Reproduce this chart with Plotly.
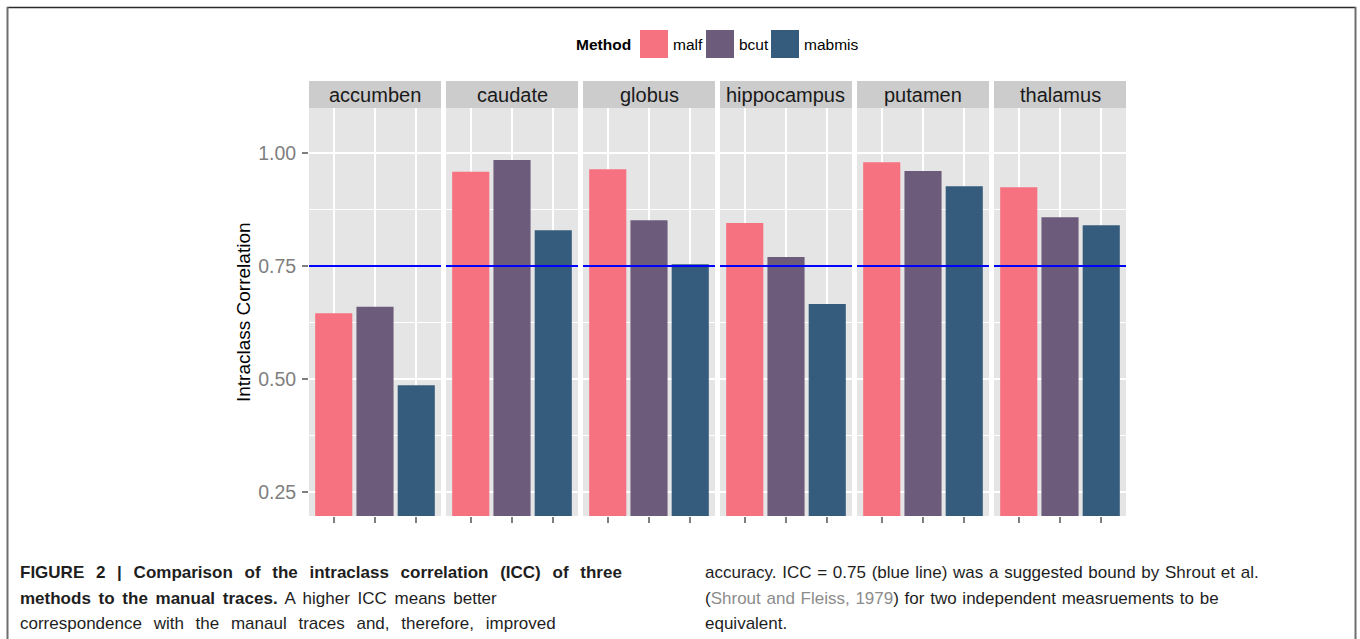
import plotly.graph_objects as go

# ICC of each automatic segmentation method against the manual traces
REGIONS = ["accumben", "caudate", "globus", "hippocampus", "putamen", "thalamus"]
METHODS = ["malf", "bcut", "mabmis"]
MALF = [0.646, 0.958, 0.964, 0.845, 0.979, 0.924]
BCUT = [0.660, 0.984, 0.851, 0.770, 0.960, 0.858]
MABMIS = [0.487, 0.829, 0.754, 0.666, 0.926, 0.840]
ICC_BOUND = 0.75

Y_TICKS = [0.25, 0.50, 0.75, 1.00]
Y_TICK_LABELS = ["0.25", "0.50", "0.75", "1.00"]
Y_MINOR = [0.375, 0.625, 0.875]
Y_RANGE = [0.198, 1.099]

COLORS = ["#F67280", "#6C5B7B", "#355C7D"]

W, H = 1360, 639
FONT = "Liberation Sans, Arial, Helvetica, sans-serif"
TICK_GREY = "#7F7F7F"

# panel geometry in pixels
PANEL_LEFT = [309, 446, 583, 720, 857, 994]
PANEL_W = 132
PANEL_TOP, PANEL_BOTTOM = 108, 516
STRIP_TOP = 81


def px(x):
    return x / W


def py(y):
    return 1 - y / H


fig = go.Figure()
series = [MALF, BCUT, MABMIS]

for i, region in enumerate(REGIONS):
    xa = "x" if i == 0 else f"x{i + 1}"
    vals = [s[i] for s in series]
    fig.add_trace(go.Bar(
        x=METHODS, y=vals, width=0.9,
        marker=dict(color=COLORS, line=dict(width=0)),
        xaxis=xa, yaxis="y", showlegend=False,
        name=region,
        hovertemplate=region + "<br>%{x}: %{y:.3f}<extra></extra>",
    ))

    axis_key = "xaxis" if i == 0 else f"xaxis{i + 1}"
    fig.update_layout({axis_key: dict(
        domain=[px(PANEL_LEFT[i]), px(PANEL_LEFT[i] + PANEL_W)],
        anchor="y", type="category", range=[-0.6, 2.6],
        showticklabels=False, ticks="outside", ticklen=6, tickwidth=1.5,
        tickcolor=TICK_GREY, showgrid=True, gridcolor="white", gridwidth=1.8,
        zeroline=False, showline=False, fixedrange=True,
    )})

    # reference bound across the panel
    fig.add_shape(type="line", xref=f"{xa} domain", yref="y",
                  x0=0, x1=1, y0=ICC_BOUND, y1=ICC_BOUND,
                  line=dict(color="#0000FF", width=2), layer="above")

    # facet strip
    fig.add_shape(type="rect", xref="paper", yref="paper",
                  x0=px(PANEL_LEFT[i]), x1=px(PANEL_LEFT[i] + PANEL_W),
                  y0=py(PANEL_TOP), y1=py(STRIP_TOP),
                  fillcolor="#CCCCCC", line=dict(width=0), layer="below")
    fig.add_annotation(xref="paper", yref="paper",
                       x=px(PANEL_LEFT[i] + PANEL_W / 2), y=py((PANEL_TOP + STRIP_TOP) / 2),
                       text=region, showarrow=False, xanchor="center", yanchor="middle",
                       font=dict(family=FONT, size=20, color="#1A1A1A"))

fig.update_layout(yaxis=dict(
    domain=[py(PANEL_BOTTOM), py(PANEL_TOP)], anchor="x",
    range=Y_RANGE, tickmode="array", tickvals=Y_TICKS, ticktext=Y_TICK_LABELS,
    ticks="outside", ticklen=6, tickwidth=1.5, tickcolor=TICK_GREY,
    tickfont=dict(family=FONT, size=19.5, color=TICK_GREY), ticklabelstandoff=2,
    showgrid=True, gridcolor="white", gridwidth=1.8,
    minor=dict(tickmode="array", tickvals=Y_MINOR, showgrid=True,
               gridcolor="white", gridwidth=0.9, ticks=""),
    zeroline=False, showline=False, fixedrange=True,
))

# y-axis title
fig.add_annotation(xref="paper", yref="paper", x=px(244), y=py((PANEL_TOP + PANEL_BOTTOM) / 2),
                   text="Intraclass Correlation", textangle=-90, showarrow=False,
                   xanchor="center", yanchor="middle",
                   font=dict(family=FONT, size=19, color="#000000"))

# legend: title, colour keys and labels
LEG_Y0, LEG_Y1 = 30, 58
LEG_BOX_LEFT = [640, 706, 771]
fig.add_annotation(xref="paper", yref="paper", x=px(633), y=py((LEG_Y0 + LEG_Y1) / 2),
                   text="<b>Method</b>", showarrow=False, xanchor="right", yanchor="middle",
                   font=dict(family=FONT, size=15.5, color="#000000"))
for name, color, left in zip(METHODS, COLORS, LEG_BOX_LEFT):
    fig.add_shape(type="rect", xref="paper", yref="paper",
                  x0=px(left), x1=px(left + 28), y0=py(LEG_Y1), y1=py(LEG_Y0),
                  fillcolor=color, line=dict(width=0))
    fig.add_annotation(xref="paper", yref="paper", x=px(left + 31), y=py((LEG_Y0 + LEG_Y1) / 2),
                       text=name, showarrow=False, xanchor="left", yanchor="middle",
                       font=dict(family=FONT, size=15.5, color="#000000"))

# caption (two columns, with per-line word spacing)
CAP_FONT = dict(family=FONT, size=17, color="#1E1E1E")


def spaced(txt, ws):
    return f"<span style='word-spacing:{ws}px'>{txt}</span>"


left_lines = [
    spaced("<b>FIGURE 2 | Comparison of the intraclass correlation (ICC) of three</b>", 7),
    spaced("<b>methods to the manual traces.</b> A higher ICC means better", 3),
    spaced("correspondence with the manaul traces and, therefore, improved", 7),
]
right_lines = [
    spaced("accuracy. ICC = 0.75 (blue line) was a suggested bound by Shrout et al.", 1),
    spaced("(<span style='color:#8C8C8C'>Shrout and Fleiss, 1979</span>) for two independent measruements to be", 1),
    "equivalent.",
]
CAP_Y = [572, 598, 623]
for txt, yy in zip(left_lines, CAP_Y):
    fig.add_annotation(xref="paper", yref="paper", x=px(18), y=py(yy), text=txt,
                       showarrow=False, xanchor="left", yanchor="middle", font=CAP_FONT)
for txt, yy in zip(right_lines, CAP_Y):
    fig.add_annotation(xref="paper", yref="paper", x=px(703), y=py(yy), text=txt,
                       showarrow=False, xanchor="left", yanchor="middle", font=CAP_FONT)

# figure frame
fig.add_shape(type="line", xref="paper", yref="paper", x0=px(7), x1=px(1356), y0=py(7.5), y1=py(7.5),
              line=dict(color="#2A2A2A", width=1.5))
fig.add_shape(type="line", xref="paper", yref="paper", x0=px(7.5), x1=px(7.5), y0=py(7), y1=0,
              line=dict(color="#6E6E6E", width=2))
fig.add_shape(type="line", xref="paper", yref="paper", x0=px(1355.5), x1=px(1355.5), y0=py(7), y1=0,
              line=dict(color="#6E6E6E", width=2))

fig.update_layout(
    width=W, height=H, autosize=False,
    margin=dict(l=0, r=0, t=0, b=0, pad=0),
    paper_bgcolor="white", plot_bgcolor="#E5E5E5",
    bargap=0.1, showlegend=False,
    font=dict(family=FONT),
)

fig.write_html("out.html", config={"displayModeBar": False})
